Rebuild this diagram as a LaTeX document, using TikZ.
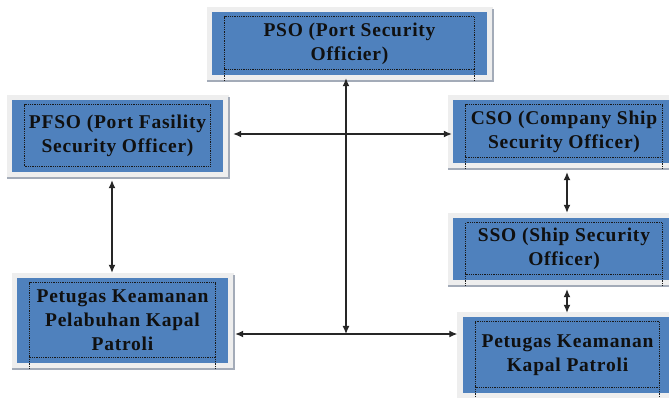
\documentclass[tikz,border=0pt]{standalone}
\usepackage{fontspec}
\setmainfont{Liberation Serif}
\usetikzlibrary{arrows.meta,backgrounds,calc}
\definecolor{boxblue}{HTML}{4F81BD}
\definecolor{framegray}{HTML}{EEEEEE}
\definecolor{shadowgray}{HTML}{A3ABB8}
\definecolor{txt}{HTML}{101010}
\begin{document}
\begin{tikzpicture}[x=1pt,y=1pt,
  blk/.style={fill=boxblue, inner sep=0pt, align=center, text=txt,
    font=\fontsize{19.5}{24}\selectfont\bfseries\addfontfeature{LetterSpace=4}},
  dotframe/.style={densely dotted, draw=black!90, line width=0.8pt},
  arr/.style={line width=1.2pt, draw=black!85,
    {Latex[length=8pt,width=7pt]}-{Latex[length=8pt,width=7pt]}}]
\useasboundingbox (0,0) rectangle (669,398);
\node[blk, minimum width=275, minimum height=63] (pso) at (349.5,354.5) {PSO (Port Security\\Officier)};
\node[blk, minimum width=211, minimum height=72] (pfso) at (117.5,262) {PFSO (Port Fasility\\Security Officer)};
\node[blk, minimum width=222, minimum height=63] (cso) at (564,266.5) {CSO (Company Ship\\Security Officer)};
\node[blk, minimum width=222, minimum height=62] (sso) at (564,149) {SSO (Ship Security\\Officer)};
\node[blk, minimum width=210, minimum height=76] (kap) at (567.5,43) {Petugas Keamanan\\Kapal Patroli};
\node[blk, minimum width=211, minimum height=85] (pel) at (122.5,77.5) {Petugas Keamanan\\Pelabuhan Kapal\\Patroli};
\begin{scope}[on background layer]
\foreach \n in {pso,pfso,cso,sso,kap,pel}{
  \fill[framegray] ([shift={(-5,-7)}]\n.south west) rectangle ([shift={(6,5)}]\n.north east);
  \draw[shadowgray,line width=2.5pt] ([shift={(-5,-6)}]\n.south west) -- ([shift={(6,-6)}]\n.south east) -- ([shift={(6,3)}]\n.north east);
}
\end{scope}
\foreach \n in {pso,pfso,cso,sso,kap,pel}{
  \draw[dotframe] ([shift={(13,6)}]\n.south west) rectangle ([shift={(-13,-5)}]\n.north east);
}
\foreach \n in {pso,cso,sso,kap,pel}{
  \draw[dotframe] ([shift={(13,6)}]\n.south west) -- ++(0,-12);
  \draw[dotframe] ([shift={(-13,6)}]\n.south east) -- ++(0,-12);
}
\coordinate (jn) at (346,64);
\draw[arr] ([shift={(-3.5,-3)}]pso.south) -- (jn);
\draw[arr] ([shift={(10,2)}]pfso.east) -- ([shift={(-1,-2.5)}]cso.west);
\draw[arr] ([shift={(7,-13.5)}]pel.east) -- ([shift={(-5,21)}]kap.west);
\draw[arr] ([shift={(-5.5,-8)}]pfso.south) -- ([shift={(-10.5,5)}]pel.north);
\draw[arr] ([shift={(3,-9)}]cso.south) -- ([shift={(3,5)}]sso.north);
\draw[arr] ([shift={(3,-9)}]sso.south) -- ([shift={(-0.5,4)}]kap.north);
\end{tikzpicture}
\end{document}
